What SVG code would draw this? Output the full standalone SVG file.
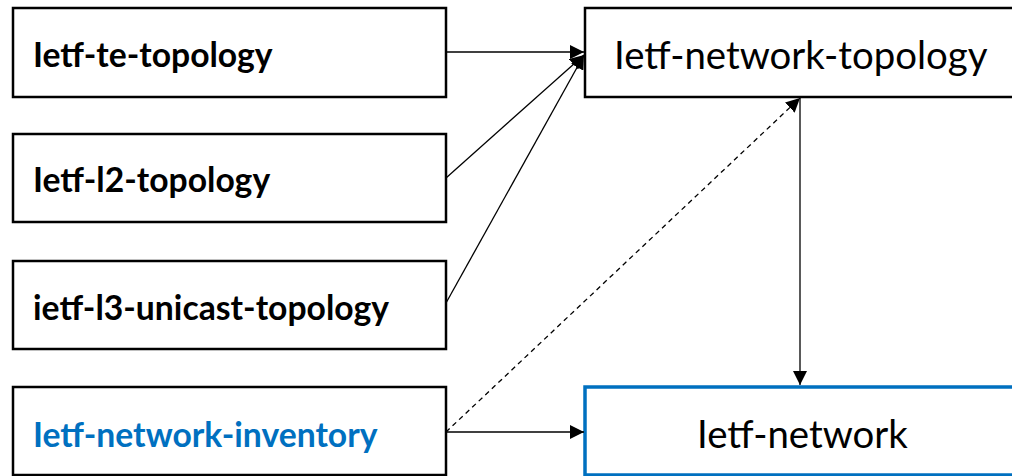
<svg xmlns="http://www.w3.org/2000/svg" width="1012" height="476" viewBox="0 0 1012 476">
<style>
.box{fill:#fff;stroke:#000;stroke-width:2.5}
.blue{fill:#fff;stroke:#0070C0;stroke-width:3.5}
.lb{font-family:Lato,"Open Sans",sans-serif;font-weight:bold;font-size:33.7px;fill:#000}
.lr{font-family:Lato,"Open Sans",sans-serif;font-size:38.4px;fill:#000}
.con{stroke:#000;stroke-width:1.3;fill:none}
</style>
<defs>
<marker id="ah" viewBox="0 0 10 10" refX="10" refY="5" markerWidth="14" markerHeight="14" markerUnits="userSpaceOnUse" orient="auto">
<path d="M0,0 L10,5 L0,10 z" fill="#000"/>
</marker>
</defs>
<g id="n-te"><rect class="box" x="13" y="8" width="433" height="89"/><text class="lb" x="33" y="67">Ietf-te-topology</text></g>
<g id="n-l2"><rect class="box" x="13" y="134" width="433" height="88"/><text class="lb" x="33" y="192">Ietf-l2-topology</text></g>
<g id="n-l3"><rect class="box" x="13" y="261" width="433" height="88"/><text class="lb" x="33" y="320">ietf-l3-unicast-topology</text></g>
<g id="n-inv"><rect class="box" x="13" y="387" width="433" height="88"/><text class="lb" x="33" y="447" style="fill:#0070C0">Ietf-network-inventory</text></g>
<g id="n-nt"><rect class="box" x="585" y="8" width="440" height="89"/><text class="lr" x="614" y="69">Ietf-network-topology</text></g>
<g id="n-net"><rect class="blue" x="585" y="387" width="440" height="88"/><text class="lr" x="697" y="448">Ietf-network</text></g>
<g id="connectors">
<line class="con" x1="446" y1="52" x2="584" y2="52" marker-end="url(#ah)"/>
<line class="con" x1="446" y1="178" x2="584" y2="55" marker-end="url(#ah)"/>
<line class="con" x1="446" y1="303" x2="584" y2="55" marker-end="url(#ah)"/>
<line class="con" x1="800" y1="97" x2="800" y2="385" marker-end="url(#ah)"/>
<line class="con" x1="446" y1="432" x2="800" y2="98" stroke-dasharray="5,4" marker-end="url(#ah)"/>
<line class="con" x1="446" y1="432" x2="584" y2="432" marker-end="url(#ah)"/>
</g>
</svg>
